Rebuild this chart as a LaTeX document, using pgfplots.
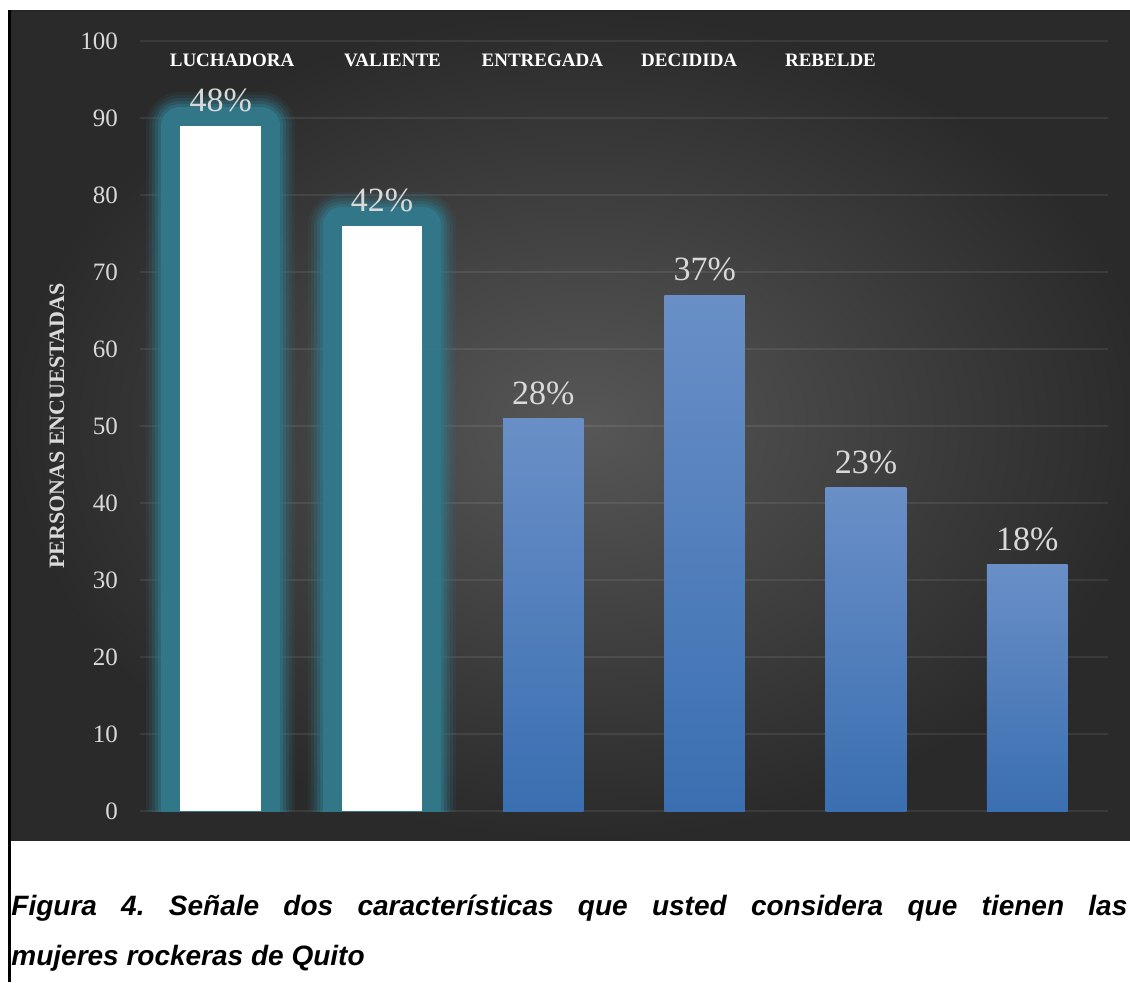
\documentclass[border=0pt]{standalone}
\usepackage{pgfplots}
\pgfplotsset{compat=1.18}
\usepackage{fontspec}
\setmainfont{Liberation Serif}
\newfontfamily\capfont{Liberation Sans}
\definecolor{bgin}{HTML}{575757}
\definecolor{bgout}{HTML}{2A2A2A}
\definecolor{glow}{HTML}{32798B}
\definecolor{btop}{HTML}{6A8FC7}
\definecolor{bbot}{HTML}{3A6FB1}
\definecolor{lbl}{HTML}{D9D9D9}
\frenchspacing
\begin{document}
\begin{tikzpicture}
\useasboundingbox (0,0) rectangle (565pt,491pt);
\fill[white] (0,0) rectangle (565pt,491pt);
\begin{scope}
\clip (0,0) rectangle (565pt,491pt);
\shade[inner color=bgin, outer color=bgout] (5pt,71pt) rectangle (578pt,485.5pt);
\draw[line width=1pt, black!85] (4pt,485.5pt) -- (580pt,485.5pt);
\draw[line width=1.5pt, black] (4.75pt,0pt) -- (4.75pt,486pt);
\begin{axis}[
  at={(70pt,85.5pt)}, anchor=south west, scale only axis,
  width=484pt, height=385pt,
  xmin=-0.5, xmax=5.5, ymin=0, ymax=100,
  ytick={0,10,...,100}, xtick=\empty,
  ymajorgrids, grid style={white, opacity=0.08, line width=1pt},
  axis line style={draw=none}, major tick length=0pt,
  /pgf/number format/assume math mode=true,
  yticklabel style={font=\fontsize{12.5}{14}\selectfont, text=lbl, xshift=-7.5pt},
  ylabel={PERSONAS ENCUESTADAS},
  every axis y label/.style={at={(axis description cs:-0.0857,0.5)}, rotate=90, anchor=center, font=\bfseries\fontsize{11}{13}\selectfont, text=lbl},
  mybar/.style={ybar, bar width=0.5, draw=none,
     every node near coord/.append style={font=\fontsize{17}{19}\selectfont, text=lbl, yshift=3.3pt}},
  glowbar/.style={mybar, fill=white,
     preaction={draw=glow, line width=34pt, opacity=0.1, line join=round},
     preaction={draw=glow, line width=31pt, opacity=0.15, line join=round},
     preaction={draw=glow, line width=28pt, opacity=0.2, line join=round},
     preaction={draw=glow, line width=25pt, opacity=0.3, line join=round},
     preaction={draw=glow, line width=22pt, opacity=0.45, line join=round},
     preaction={draw=glow, line width=19pt, opacity=0.9, line join=round}},
  bluebar/.style={mybar, top color=btop, bottom color=bbot},
]
\addplot[glowbar, nodes near coords={48\%}] coordinates {(0,89)};
\addplot[glowbar, nodes near coords={42\%}] coordinates {(1,76)};
\addplot[bluebar, nodes near coords={28\%}] coordinates {(2,51)};
\addplot[bluebar, nodes near coords={37\%}] coordinates {(3,67)};
\addplot[bluebar, nodes near coords={23\%}] coordinates {(4,42)};
\addplot[bluebar, nodes near coords={18\%}] coordinates {(5,32)};
\begin{scope}[every node/.style={anchor=base, text=white, font=\bfseries\fontsize{9.5}{11}\selectfont}]
\node at (axis cs:0.071,96.75) {LUCHADORA};
\node at (axis cs:1.065,96.75) {VALIENTE};
\node at (axis cs:1.994,96.75) {ENTREGADA};
\node at (axis cs:2.904,96.75) {DECIDIDA};
\node at (axis cs:3.78,96.75) {REBELDE};
\end{scope}
\end{axis}
\node[anchor=base west, inner sep=0, font=\capfont\bfseries\itshape\fontsize{14}{16}\selectfont] at (5.5pt,33.5pt) {\makebox[558pt][s]{Figura 4. Señale dos características que usted considera que tienen las}};
\node[anchor=base west, inner sep=0, font=\capfont\bfseries\itshape\fontsize{14}{16}\selectfont] at (5.5pt,8.5pt) {mujeres rockeras de Quito};
\end{scope}
\end{tikzpicture}
\end{document}
